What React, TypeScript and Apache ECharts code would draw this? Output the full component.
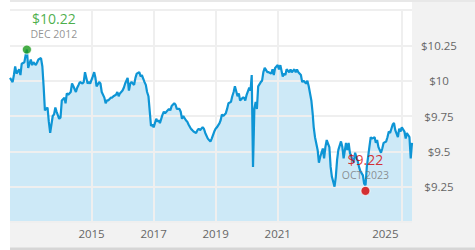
import React, { useEffect, useRef } from "react";
import * as echarts from "echarts";

const _ = null;

// Half-month NAV readings (slots: Jan 1, Jan 16, Feb 1, ... Dec 16); null = no reading
const years = [2012, 2013, 2014, 2015, 2016, 2017, 2018, 2019, 2020, 2021, 2022, 2023, 2024, 2025];
const nav2012 = [_, _, _, _, _, _, _, _, _, 10.02, _, 9.99, 10.04, 10.1, 10.05, _, 10.08, 10.04, 10.12, _, 10.13, 10.18, 10.22, 10.09];
const nav2013 = [_, 10.15, 10.11, 10.13, _, 10.11, 10.13, 10.15, _, 10.16, 10.1, 9.96, 9.79, _, 9.81, 9.71, 9.63, _, 9.75, 9.76, 9.81, 9.78, _, 9.73];
const nav2014 = [9.74, 9.86, _, 9.88, 9.84, 9.91, 9.9, _, 9.92, 9.98, 9.96, _, 9.92, 9.95, 9.97, 9.99, _, 9.98, 9.99, 10.06, _, 9.98, 9.99, 9.98];
const nav2015 = [_, 10.03, 10.06, 10.02, 9.96, _, 9.99, 9.98, 9.92, _, 9.88, 9.84, 9.86, 9.86, _, 9.88, 9.88, 9.89, _, 9.9, 9.92, 9.89, 9.91, _];
const nav2016 = [9.93, 9.95, 9.98, _, 10.02, 9.93, 9.98, 9.99, _, 9.97, 10.02, 10.05, _, 10.06, 10.03, 10.04, _, 9.99, 9.97, 9.92, 9.89, _, 9.68, 9.69];
const nav2017 = [9.67, _, 9.73, 9.71, 9.72, 9.7, _, 9.76, 9.78, 9.77, _, 9.79, 9.8, 9.79, 9.82, _, 9.84, 9.83, 9.8, _, 9.8, 9.78, 9.73, 9.75];
const nav2018 = [_, 9.72, 9.71, 9.69, _, 9.66, 9.65, 9.64, _, 9.63, 9.65, 9.66, 9.65, _, 9.67, 9.66, 9.63, _, 9.59, 9.58, 9.57, 9.59, _, 9.64];
const nav2019 = [9.66, 9.67, _, 9.7, 9.72, 9.76, 9.75, _, 9.77, 9.8, 9.84, _, 9.85, 9.89, 9.92, 9.96, _, 9.89, 9.91, 9.86, _, 9.88, 9.88, 9.86];
const nav2020 = [9.9, _, 9.95, 9.93, 10.04, 9.39, 9.8, 9.85, 9.8, 9.96, _, 9.99, 10.0, 10.06, 10.09, _, 10.06, 10.06, _, 10.05, 10.08, 10.04, 10.09, _];
const nav2021 = [10.11, 10.08, 10.11, _, 10.03, 10.05, 10.04, 10.08, _, 10.06, 10.08, 10.06, _, 10.08, 10.06, 10.08, 10.06, _, 10.04, 9.99, 10.0, _, 9.98, 10.0];
const nav2022 = [9.96, _, 9.86, 9.77, 9.67, 9.6, _, 9.51, 9.42, 9.46, _, 9.52, 9.45, 9.53, 9.58, _, 9.53, 9.39, 9.32, _, 9.25, 9.32, 9.44, 9.51];
const nav2023 = [_, 9.57, 9.53, 9.45, _, 9.56, 9.51, 9.56, 9.49, _, 9.44, 9.42, 9.49, _, 9.43, 9.39, 9.36, _, 9.33, 9.27, 9.26, 9.39, _, 9.53];
const nav2024 = [9.6, 9.59, _, 9.6, 9.56, 9.58, 9.53, _, 9.49, 9.52, 9.56, _, 9.57, 9.6, 9.64, 9.63, _, 9.69, 9.7, 9.65, _, 9.6, 9.66, 9.64];
const nav2025 = [9.67, _, 9.64, 9.59, 9.63, _, 9.6, 9.45, 9.56];
const navByYear = [nav2012, nav2013, nav2014, nav2015, nav2016, nav2017, nav2018, nav2019, nav2020, nav2021, nav2022, nav2023, nav2024, nav2025];

const xMin = "2012-05-16";
const xMax = "2025-05-01";
const yearLabels = ["2015", "2017", "2019", "2021", "2025"];
const yMin = 9;
const yMax = 10.5;
const yStep = 0.25;

const highDate = "2012-12-01";
const highValue = 10.22;
const highLabel = "DEC 2012";
const lowDate = "2023-10-31";
const lowValue = 9.22;
const lowLabel = "OCT 2023";

const FONT = "Open Sans";
const pad = (n: number) => (n < 10 ? "0" + n : "" + n);

function buildPoints(): [string, number][] {
  const pts: [string, number][] = [];
  years.forEach((y, yi) => {
    navByYear[yi].forEach((v, s) => {
      if (v === null) return;
      const m = Math.floor(s / 2) + 1;
      const d = s % 2 ? 16 : 1;
      pts.push([`${y}-${pad(m)}-${pad(d)}`, v as number]);
    });
  });
  return pts;
}

const annotationRich = (color: string) => ({
  v: { color, fontSize: 14, lineHeight: 17, fontFamily: FONT },
  d: { color: "#777777", fontSize: 10.5, lineHeight: 14, fontFamily: FONT },
});

export default function App() {
  const ref = useRef<HTMLDivElement>(null);
  useEffect(() => {
    if (!ref.current) return;
    const chart = echarts.init(ref.current, undefined, { renderer: "svg" });
    const points = buildPoints();
    const option: any = {
      animation: false,
      backgroundColor: "#ffffff",
      textStyle: { fontFamily: FONT },
      grid: { left: 10, right: 63, top: 10, bottom: 28, containLabel: false, outerBoundsMode: "none" },
      graphic: [
        { type: "rect", z: -10, silent: true, shape: { x: 10, y: 0, width: 465, height: 250 }, style: { fill: "#f2f2f2" } },
        { type: "rect", z: -9, silent: true, shape: { x: 10, y: 0, width: 465, height: 2 }, style: { fill: "#e8e8e8" } },
        { type: "rect", z: -9, silent: true, shape: { x: 10, y: 2, width: 402, height: 220 }, style: { fill: "#ffffff" } },
        { type: "rect", z: -9, silent: true, shape: { x: 10, y: 247.5, width: 465, height: 2.5 }, style: { fill: "#d6d6d6" } },
      ],
      xAxis: {
        type: "time",
        min: xMin,
        max: xMax,
        axisLine: { show: false },
        axisTick: { show: false },
        axisLabel: { show: false },
        splitLine: { show: false },
      },
      yAxis: {
        type: "value",
        position: "right",
        min: yMin,
        max: yMax,
        interval: yStep,
        z: 3,
        axisLine: { show: false },
        axisTick: { show: false },
        splitLine: { show: true, lineStyle: { color: "#efefef", width: 2 } },
        axisLabel: {
          align: "center",
          margin: 27,
          color: "#666666",
          fontSize: 11.5,
          fontFamily: FONT,
          formatter: (v: number) => (v <= yMin + 0.01 || v >= yMax - 0.01 ? "" : "$" + v),
        },
      },
      series: [
        {
          type: "line",
          data: points,
          symbol: "none",
          z: 2,
          lineStyle: { opacity: 0, width: 0 },
          areaStyle: { color: "#cde9f7", opacity: 1 },
          markLine: {
            silent: true,
            symbol: "none",
            z: 4,
            lineStyle: { color: "#efefef", width: 2, type: "solid" },
            label: {
              show: true,
              position: "start",
              distance: 5,
              color: "#666666",
              fontSize: 11.5,
              fontFamily: FONT,
              formatter: "{b}",
            },
            data: yearLabels.map((y, i) =>
              i === yearLabels.length - 1
                ? {
                    xAxis: `${y}-01-01`,
                    name: y,
                    label: {
                      formatter: `{r|${y}}`,
                      rich: { r: { padding: [0, 33, 0, 0], fontSize: 11.5, color: "#666666", fontFamily: FONT } },
                    },
                  }
                : { xAxis: `${y}-01-01`, name: y }
            ),
          },
        },
        {
          type: "line",
          data: points,
          symbol: "none",
          z: 6,
          lineStyle: { color: "#0e95d5", width: 2.2 },
        },
        {
          type: "scatter",
          z: 10,
          symbolSize: 9,
          itemStyle: { borderColor: "#ffffff", borderWidth: 1 },
          data: [
            {
              value: [highDate, highValue],
              itemStyle: { color: "#1a9a1a" },
              label: {
                show: true,
                position: "top",
                distance: 4,
                offset: [27, 0],
                formatter: `{v|$${highValue.toFixed(2)}}\n{d|${highLabel}}`,
                rich: annotationRich("#1a9a1a"),
              },
            },
            {
              value: [lowDate, lowValue],
              itemStyle: { color: "#d40000" },
              label: {
                show: true,
                position: "top",
                distance: 4,
                formatter: `{v|$${lowValue.toFixed(2)}}\n{d|${lowLabel}}`,
                rich: annotationRich("#d40000"),
              },
            },
          ],
        },
      ],
    };
    chart.setOption(option);
    return () => chart.dispose();
  }, []);
  return <div ref={ref} style={{ position: "fixed", left: 0, top: 0, width: 475, height: 250 }} />;
}
